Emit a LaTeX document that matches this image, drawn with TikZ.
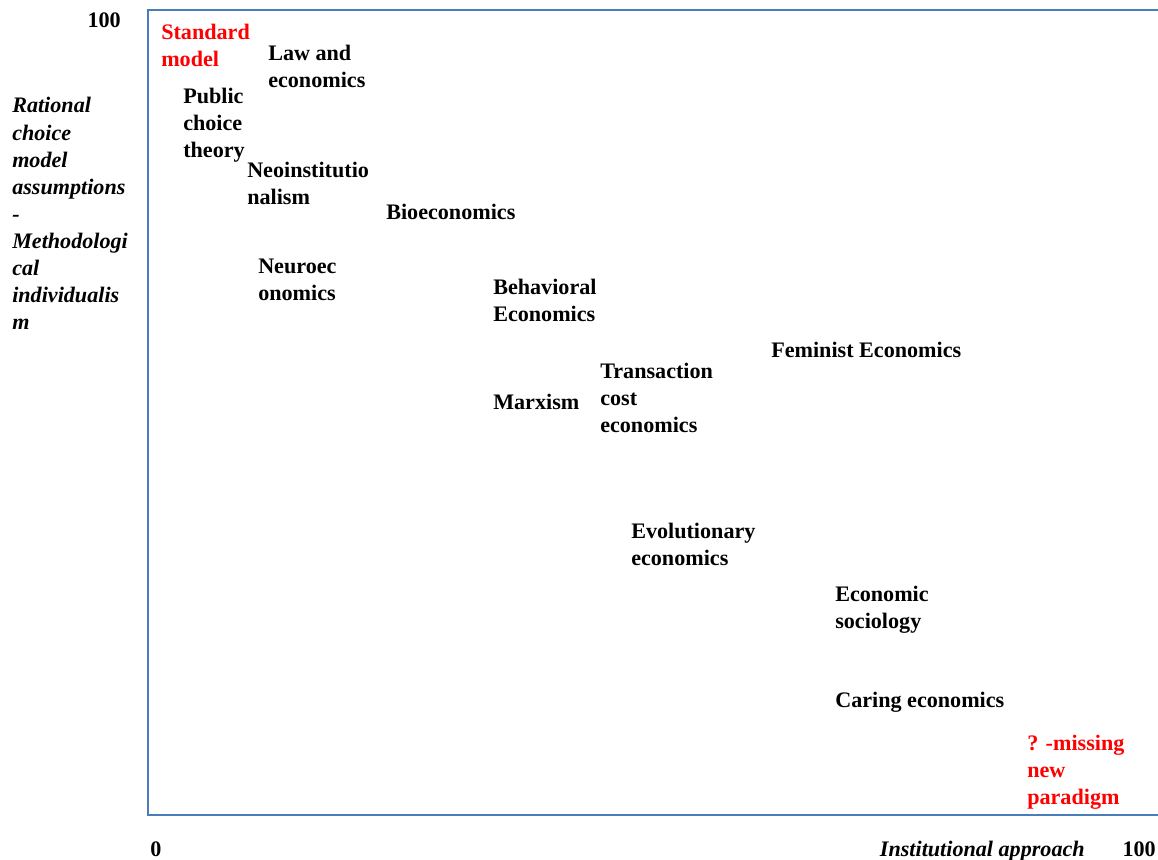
\documentclass[tikz,border=0pt]{standalone}
\usepackage{fontspec}
\setmainfont{Liberation Serif}
\definecolor{framecol}{RGB}{74,126,187}
\definecolor{redtxt}{RGB}{255,0,0}
\begin{document}
\begin{tikzpicture}[x=0.75pt,y=-0.75pt,
  lbl/.style={anchor=base west,inner sep=0pt,align=left,
    font=\fontsize{16.6}{20.2}\selectfont\bfseries},
  ital/.style={lbl,font=\fontsize{16.6}{20.3}\selectfont\bfseries\itshape},
  redl/.style={lbl,text=redtxt}]
\useasboundingbox (0,0) rectangle (1158,860);
\coordinate (tr) at (1158,10);
\coordinate (tl) at (148,10);
\coordinate (bl) at (148,815);
\coordinate (br) at (1158,815);
\draw[framecol,line width=1.7pt] (tr) -- (tl) -- (bl) -- (br);
% multi-line nodes are placed by the baseline of their last line
\node[lbl,anchor=base east] (ytop) at (121,27) {100};
\node[ital] (yaxis) at (12,329.5) {Rational\\choice\\model\\assumptions\\-\\Methodologi\\cal\\individualis\\m};
\node[redl] (std) at (161,66) {Standard\\model};
\node[lbl] (law) at (268,87) {Law and\\economics};
\node[lbl] (pub) at (183,157) {Public\\choice\\theory};
\node[lbl] (neoi) at (247,204) {Neoinstitutio\\nalism};
\node[lbl] (bio) at (386,219) {Bioeconomics};
\node[lbl] (neuro) at (258,300) {Neuroec\\onomics};
\node[lbl] (beh) at (493,321) {Behavioral\\Economics};
\node[lbl] (fem) at (771,357) {Feminist Economics};
\node[lbl] (trans) at (600,432) {Transaction\\cost\\economics};
\node[lbl] (marx) at (493,409) {Marxism};
\node[lbl] (evo) at (631,565) {Evolutionary\\economics};
\node[lbl] (soc) at (835,628) {Economic\\sociology};
\node[lbl] (car) at (835,707) {Caring economics};
\node[redl] (miss) at (1027,804) {? -missing\\new\\paradigm};
\node[lbl] (zero) at (150,856) {0};
\node[ital,anchor=base east] (xaxis) at (1085,856) {Institutional approach};
\node[lbl,anchor=base east] (xend) at (1156,856) {100};
\end{tikzpicture}
\end{document}
